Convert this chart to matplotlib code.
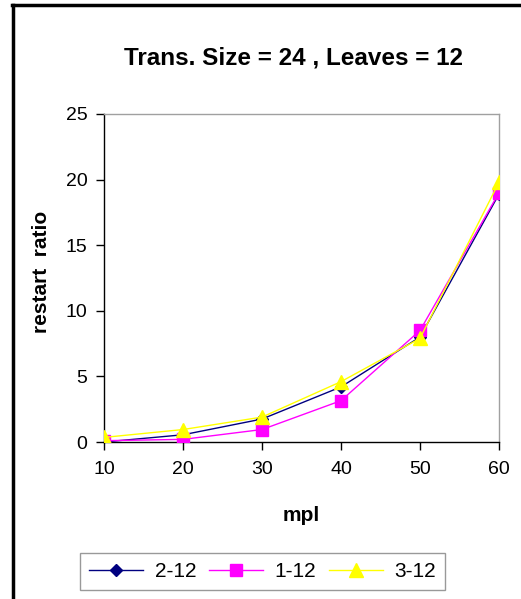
import matplotlib
matplotlib.use('Agg')
import matplotlib.pyplot as plt
from matplotlib.lines import Line2D

plt.rcParams['font.family'] = ['Liberation Sans', 'DejaVu Sans']

mpl_values = [10, 20, 30, 40, 50, 60]
series_names = ['2-12', '1-12', '3-12']
ratio_2_12 = [0.0, 0.55, 1.75, 4.2, 8.0, 18.9]
ratio_1_12 = [0.1, 0.2, 0.95, 3.15, 8.5, 19.0]
ratio_3_12 = [0.35, 0.95, 1.9, 4.6, 7.9, 19.8]
y_ticks = [0, 5, 10, 15, 20, 25]

fig = plt.figure(figsize=(5.21, 5.99), dpi=100)
ax = fig.add_axes([0.1996, 0.2621, 0.7582, 0.5476])

ax.plot(mpl_values, ratio_2_12, color='#000080', lw=1, marker='D', ms=6,
        label=series_names[0], zorder=3)
ax.plot(mpl_values, ratio_1_12, color='#ff00ff', lw=1, marker='s', ms=9,
        label=series_names[1], zorder=4)
ax.plot(mpl_values, ratio_3_12, color='#ffff00', lw=1, marker='^', ms=10,
        label=series_names[2], zorder=5)

ax.set_xlim(10, 60)
ax.set_ylim(0, 25)
ax.set_xticks(mpl_values)
ax.set_yticks(y_ticks)
ax.tick_params(axis='both', labelsize=14, direction='out', length=6, width=1)
ax.tick_params(axis='x', pad=8)
ax.tick_params(axis='y', pad=6)
for lab in ax.get_xticklabels() + ax.get_yticklabels():
    lab.set_clip_on(False)

ax.spines['left'].set_color('black')
ax.spines['bottom'].set_color('black')
ax.spines['top'].set_color('#a0a0a0')
ax.spines['right'].set_color('#a0a0a0')
for s in ax.spines.values():
    s.set_linewidth(1)

ax.set_xlabel('mpl', fontsize=15, fontweight='bold', labelpad=20)
ax.set_ylabel('restart  ratio', fontsize=15, fontweight='bold')
ax.yaxis.set_label_coords(-0.135, 0.52)
fig.text(0.563, 0.904, 'Trans. Size = 24 , Leaves = 12', fontsize=17.5,
         fontweight='bold', ha='center', va='center')

leg = fig.legend(loc='center', bbox_to_anchor=(0.504, 0.046),
                 ncol=3, fontsize=15, frameon=True, fancybox=False,
                 borderpad=0.45, handlelength=2.6, columnspacing=0.6,
                 handletextpad=0.55, borderaxespad=0)
leg.get_frame().set_edgecolor('#808080')
leg.get_frame().set_linewidth(1)

# outer frame, only top and left edges visible
fig.add_artist(Line2D([12 / 521, 1.0], [1 - 5 / 599, 1 - 5 / 599],
                      transform=fig.transFigure, color='black', lw=2.5))
fig.add_artist(Line2D([13 / 521, 13 / 521], [0.0, 1 - 5 / 599],
                      transform=fig.transFigure, color='black', lw=2.5))

fig.savefig('out.png', dpi=100)
